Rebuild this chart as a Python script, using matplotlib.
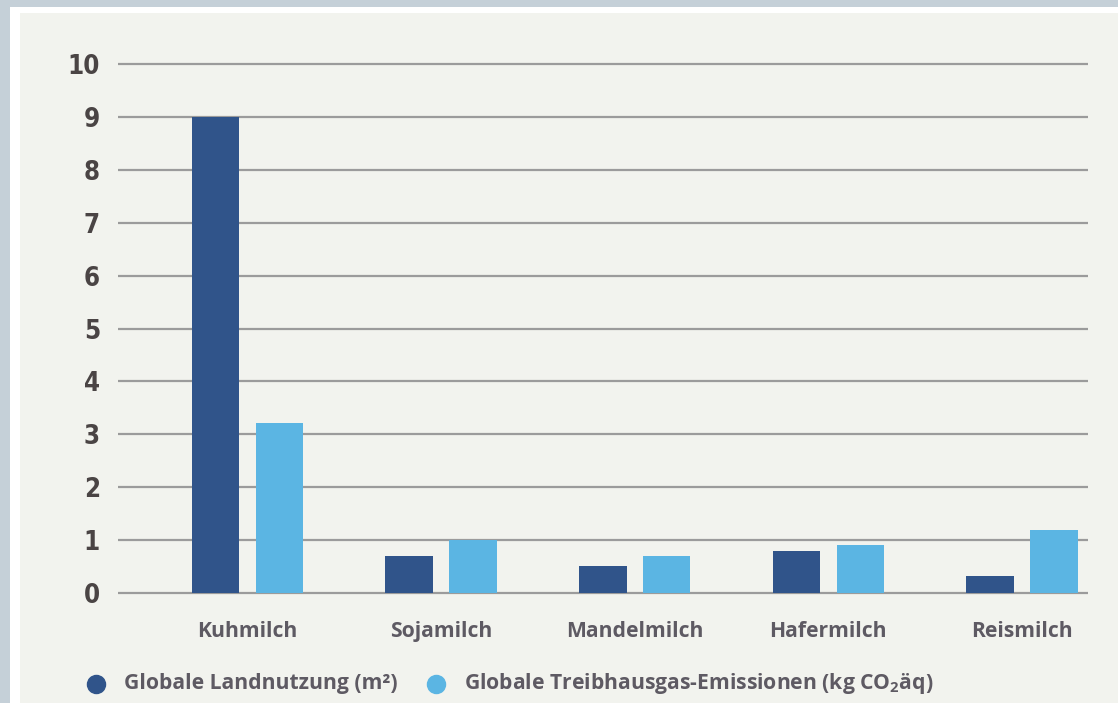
import matplotlib.pyplot as plt
from matplotlib.lines import Line2D
from matplotlib.patches import Rectangle
import numpy as np

plt.rcParams['mathtext.fontset'] = 'custom'
plt.rcParams['mathtext.rm'] = 'Open Sans:bold'
plt.rcParams['mathtext.it'] = 'Open Sans:bold'
plt.rcParams['mathtext.bf'] = 'Open Sans:bold'

categories = ['Kuhmilch', 'Sojamilch', 'Mandelmilch', 'Hafermilch', 'Reismilch']
land_use = [9.0, 0.7, 0.52, 0.8, 0.32]
emissions = [3.22, 1.0, 0.7, 0.9, 1.2]
y_ticks = list(range(0, 11))
label_land = 'Globale Landnutzung (m²)'
label_emis = 'Globale Treibhausgas-Emissionen (kg CO$_2$äq)'

dark_blue = '#30548a'
light_blue = '#5bb5e3'
num_col = '#4a4444'
text_col = '#5e5a63'
grid_col = '#9b9b9b'

fig = plt.figure(figsize=(11.18, 7.03), dpi=100)
fig.patch.set_facecolor('#c5d0d8')

W, H = 1118, 703
# white frame and panel behind the chart
fig.add_artist(Rectangle((10 / W, 0), 1, 1 - 7 / H, transform=fig.transFigure,
                         facecolor='white', edgecolor='none', zorder=-2))
fig.add_artist(Rectangle((20 / W, 0), 1, 1 - 13 / H, transform=fig.transFigure,
                         facecolor='#f2f3ee', edgecolor='none', zorder=-1))

ax = fig.add_axes([118 / W, 0.1489, (1088 - 118) / W, 0.7676])
ax.set_facecolor('none')

x = np.arange(len(categories))
width = 0.245
ax.bar(x - 0.165, land_use, width, color=dark_blue, zorder=3)
ax.bar(x + 0.165, emissions, width, color=light_blue, zorder=3)

ax.set_xlim(-0.669, 4.341)
ax.set_ylim(-0.1, 10.1)
ax.set_yticks(y_ticks)
ax.set_yticklabels([str(t) for t in y_ticks])
ax.yaxis.grid(True, color=grid_col, linewidth=1.6, zorder=1)
ax.set_axisbelow(True)

ax.set_xticks(x)
ax.set_xticklabels(categories)
ax.tick_params(axis='both', length=0)
ax.tick_params(axis='y', pad=13)
ax.tick_params(axis='x', pad=16)

for lab in ax.get_yticklabels():
    lab.set_fontfamily('DejaVu Sans')
    lab.set_fontstretch('condensed')
    lab.set_fontweight('bold')
    lab.set_fontsize(18.5)
    lab.set_color(num_col)
for lab in ax.get_xticklabels():
    lab.set_fontfamily('Open Sans')
    lab.set_fontweight('bold')
    lab.set_fontsize(15.2)
    lab.set_color(text_col)

for spine in ax.spines.values():
    spine.set_visible(False)

# legend row along the bottom
leg_y = 1 - 684 / H
for mx, tx, col, txt in [(96, 124, dark_blue, label_land),
                         (436, 464, light_blue, label_emis)]:
    fig.add_artist(Line2D([mx / W], [leg_y], marker='o', markersize=13,
                          color=col, linestyle='none',
                          transform=fig.transFigure))
    fig.text(tx / W, leg_y, txt, ha='left', va='center', fontsize=15.2,
             family='Open Sans', fontweight='bold', color=text_col)

fig.savefig('out.png', dpi=100, facecolor=fig.get_facecolor())
